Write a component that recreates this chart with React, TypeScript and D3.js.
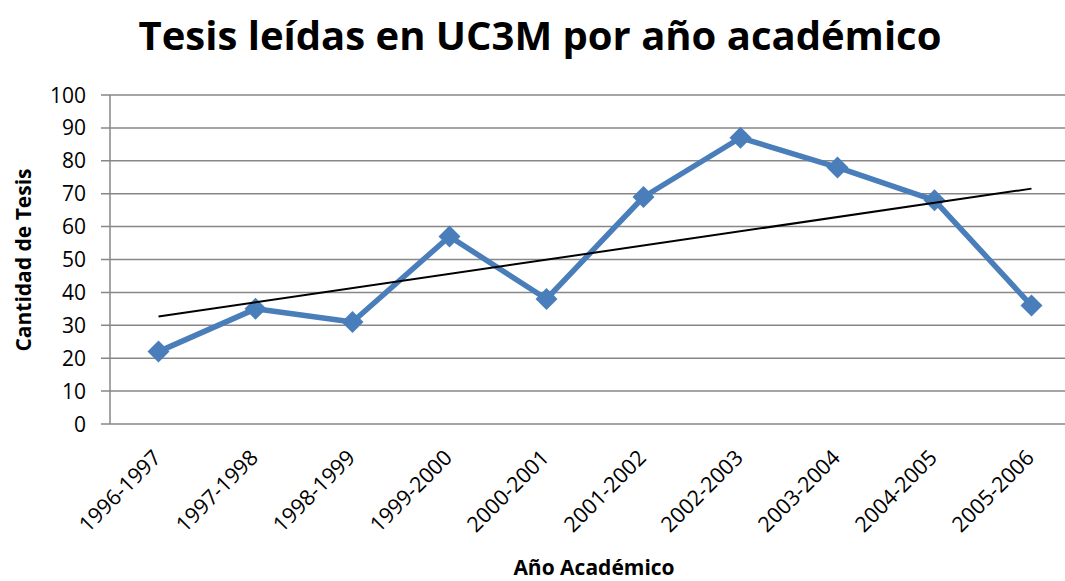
import React from "react";
import * as d3 from "d3";

const categories = ["1996-1997","1997-1998","1998-1999","1999-2000","2000-2001","2001-2002","2002-2003","2003-2004","2004-2005","2005-2006"];
const values = [22, 35, 31, 57, 38, 69, 87, 78, 68, 36];
const yTicks = [0, 10, 20, 30, 40, 50, 60, 70, 80, 90, 100];

const W = 1065, H = 581;
const left = 110, right = 1080, top = 95, bottom = 424;
const font = "Open Sans, Carlito, Liberation Sans, sans-serif";

export default function App() {
  const x = d3.scaleBand<string>().domain(categories).range([left, right]);
  const y = d3.scaleLinear().domain([0, 100]).range([bottom, top]);
  const cx = (c: string) => (x(c) as number) + x.bandwidth() / 2;

  // linear trendline (least squares)
  const n = values.length;
  const xs = values.map((_, i) => i + 1);
  const mx = d3.mean(xs) as number;
  const my = d3.mean(values) as number;
  const slope = d3.sum(xs.map((xi, i) => (xi - mx) * (values[i] - my))) / d3.sum(xs.map((xi) => (xi - mx) ** 2));
  const icpt = my - slope * mx;
  const trend = [
    [cx(categories[0]), y(icpt + slope * 1)],
    [cx(categories[n - 1]), y(icpt + slope * n)],
  ];

  const line = d3.line<number>().x((_, i) => cx(categories[i])).y((v) => y(v));
  const ds = 11;

  return (
    <svg width={W} height={H} style={{ position: "absolute", left: 0, top: 0 }}>
      <rect width={W} height={H} fill="#fff" />
      <text x={540} y={50} textAnchor="middle" fontFamily={font} fontWeight="bold" fontSize={40} fill="#000">
        Tesis leídas en UC3M por año académico
      </text>
      {yTicks.map((t) => (
        <g key={t}>
          <line x1={left - 9} x2={right} y1={y(t)} y2={y(t)} stroke="#878787" strokeWidth={1.5} />
          <text x={86} y={y(t) + 7.5} textAnchor="end" fontFamily={font} fontSize={21} fill="#000">{t}</text>
        </g>
      ))}
      <line x1={left} x2={left} y1={top} y2={bottom} stroke="#878787" strokeWidth={1.5} />
      {categories.map((c) => (
        <text key={c} transform={`translate(${cx(c) + 4},${459}) rotate(-45)`} textAnchor="end" fontFamily={font} fontSize={21.5} fill="#000">
          {c}
        </text>
      ))}
      <text transform={`translate(31,${260}) rotate(-90)`} textAnchor="middle" fontFamily={font} fontWeight="bold" fontSize={21} fill="#000">
        Cantidad de Tesis
      </text>
      <text x={594} y={575} textAnchor="middle" fontFamily={font} fontWeight="bold" fontSize={21} fill="#000">
        Año Académico
      </text>
      <path d={line(values) as string} fill="none" stroke="#4A7EBB" strokeWidth={5.5} strokeLinejoin="round" />
      {values.map((v, i) => (
        <path key={i} d={`M${cx(categories[i])},${y(v) - ds}L${cx(categories[i]) + ds},${y(v)}L${cx(categories[i])},${y(v) + ds}L${cx(categories[i]) - ds},${y(v)}Z`} fill="#4A7EBB" />
      ))}
      <line x1={trend[0][0]} y1={trend[0][1]} x2={trend[1][0]} y2={trend[1][1]} stroke="#000" strokeWidth={2} />
    </svg>
  );
}
